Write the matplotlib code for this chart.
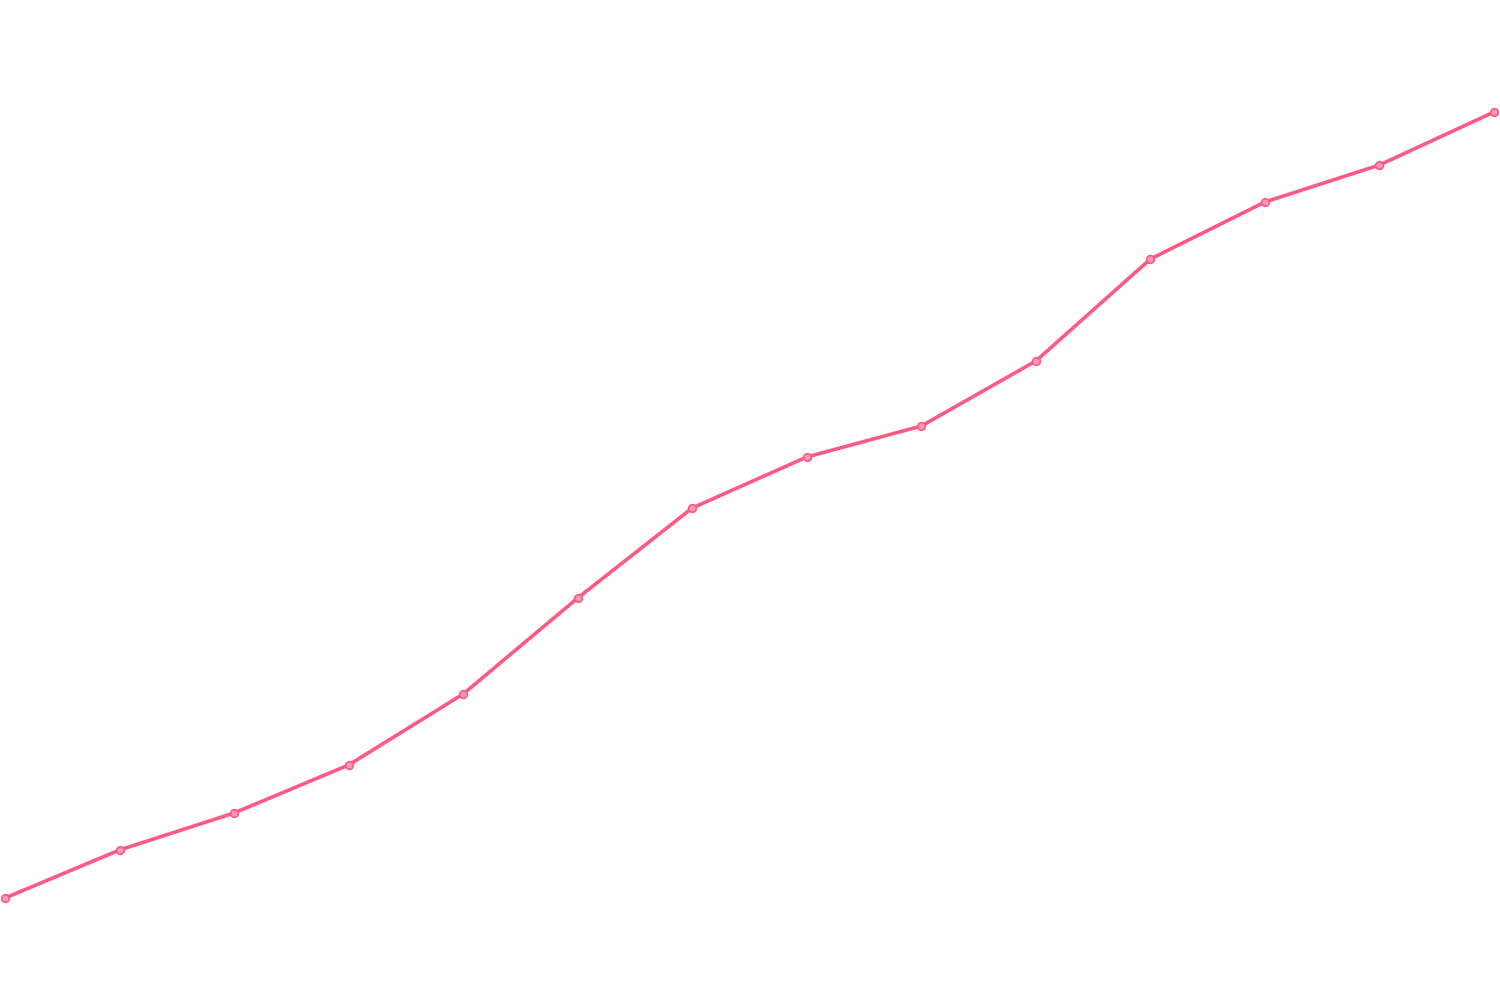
import matplotlib
matplotlib.use("Agg")
import matplotlib.pyplot as plt

# values (no axes shown, so on an arbitrary 0-1000 scale)
steps = list(range(14))
values = [102, 150, 187, 235, 306, 402, 492, 543, 574, 639, 741, 798, 835, 888]

line_color = "#ff5a83"

fig = plt.figure(figsize=(15, 10), dpi=100)
ax = fig.add_axes([0, 0, 1, 1])
ax.plot(steps, values, color=line_color, linewidth=2.6,
        marker="o", markersize=5.5, markerfacecolor="#ff9ab2",
        markeredgecolor=line_color, markeredgewidth=1.2,
        solid_capstyle="round")

step_px = 1489 / 13
ax.set_xlim(-5 / step_px, -5 / step_px + 1500 / step_px)
ax.set_ylim(0, 1000)
ax.axis("off")

fig.savefig("out.png", dpi=100)
